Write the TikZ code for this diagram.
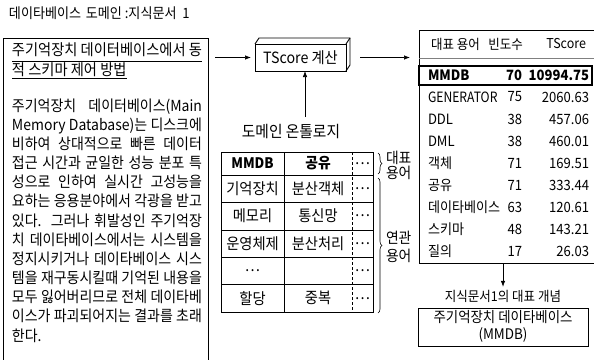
\documentclass[tikz,border=0pt]{standalone}
\usepackage{graphicx}
\usepackage{fontspec}
\setmainfont{Noto Sans CJK KR}
\usetikzlibrary{decorations.pathreplacing,arrows.meta}
\newcommand{\sx}[1]{\scalebox{0.92}[1]{#1}}
\newcommand{\jl}[1]{\makebox[206.5pt][s]{#1}}
\begin{document}
\begin{tikzpicture}[x=1pt,y=-1pt,
  every node/.style={inner sep=0pt, outer sep=0pt},
  arr/.style={-{Latex[length=6pt,width=4.5pt]}, line width=0.7pt},
  frame/.style={draw, line width=0.9pt},
  thinline/.style={line width=0.6pt},
  cell/.style={font=\fontsize{15.5}{17}\selectfont},
  rt/.style={font=\fontsize{14.2}{16}\selectfont},
  brc/.style={decorate, decoration={brace, amplitude=4pt}, line width=0.6pt},
]
\useasboundingbox[fill=white] (0,0) rectangle (594,359);

% title
\node[anchor=west, font=\fontsize{14.2}{16}\selectfont] (title) at (9,13) {\sx{데이타베이스\hspace{2pt} 도메인 :지식문서\hspace{3pt} 1}};

% left box
\node[frame, anchor=north west, minimum width=205pt, minimum height=325pt] (leftbox) at (3,38) {};
\node[anchor=west, font=\fontsize{15.5}{17}\selectfont] (h1) at (12,49.5) {\sx{\jl{주기억장치 데이터베이스에서 동}}};
\node[anchor=west, font=\fontsize{15.5}{17}\selectfont] (h2) at (12,69.5) {\sx{적 스키마 제어 방법}};
\draw[line width=0.8pt] ([yshift=-12pt]h1.west) -- ([yshift=-12pt]h1.east);
\draw[line width=0.8pt] ([yshift=-9pt]h2.west) -- ([yshift=-9pt]h2.east);
\node[anchor=north west, font=\fontsize{15.2}{19.17}\selectfont] (para) at (12,98.5) {\sx{\parbox[t]{206.5pt}{\raggedright
\jl{주기억장치 데이터베이스(Main}\\
\jl{Memory Database)는 디스크에}\\
\jl{비하여 상대적으로 빠른 데이터}\\
\jl{접근 시간과 균일한 성능 분포 특}\\
\jl{성으로 인하여 실시간 고성능을}\\
\jl{요하는 응용분야에서 각광을 받고}\\
\jl{있다. 그러나 휘발성인 주기억장}\\
\jl{치 데이타베이스에서는 시스템을}\\
\jl{정지시키거나 데이타베이스 시스}\\
\jl{템을 재구동시킬때 기억된 내용을}\\
\jl{모두 잃어버리므로 전체 데이타베}\\
\jl{이스가 파괴되어지는 결과를 초래}\\
한다.}}};

% TScore box (3D)
\node[frame, minimum width=91pt, minimum height=27pt, font=\fontsize{15.5}{17}\selectfont] (ts) at (300.5,57.5) {\sx{TScore 계산}};
\draw[line width=0.9pt] (ts.north west) -- ([shift={(4,-6)}]ts.north west) -- ([shift={(4,-6)}]ts.north east) -- ([shift={(4,-6)}]ts.south east) -- (ts.south east);
\draw[line width=0.9pt] (ts.north east) -- ([shift={(4,-6)}]ts.north east);

% right table frame
\node[frame, anchor=north west, minimum width=185pt, minimum height=233pt] (rtab) at (419,30) {};

% arrows around TScore
\draw[arr, shorten <=7pt, shorten >=4pt] (leftbox.east |- ts.west) -- (ts.west);
\draw[arr, shorten <=14pt, shorten >=9pt] (ts.east) -- (ts.east -| rtab.west);
\coordinate (upstart) at (305,117);
\draw[arr] (upstart) -- (upstart |- ts.south);

% ontology
\node[font=\fontsize{16}{17}\selectfont] (onto) at (291,132) {\sx{도메인 온톨로지}};
\node[frame, anchor=north west, minimum width=152pt, minimum height=160pt] (ont) at (221,152) {};
\draw[line width=1pt] (221,175) -- (373,175);
\foreach \yy in {202.4,229.8,257.2,284.6} {\draw[thinline] (221,\yy) -- (373,\yy);}
\draw[thinline] (284,152) -- (284,312);
\draw[thinline, densely dashed] (352,152) -- (352,312);

\node[cell, font=\fontsize{14.5}{16}\bfseries] (c11) at (252.5,163.5) {\sx{MMDB}};
\node[cell, font=\fontsize{15}{16}\bfseries] (c12) at (318,163.5) {\sx{공유}};
\node[cell] (c13) at (362.5,163.5) {\sx{…}};
\node[cell] (c21) at (252.5,188.7) {\sx{기억장치}};
\node[cell] (c22) at (318,188.7) {\sx{분산객체}};
\node[cell] (c23) at (362.5,188.7) {\sx{…}};
\node[cell] (c31) at (252.5,216.1) {\sx{메모리}};
\node[cell] (c32) at (318,216.1) {\sx{통신망}};
\node[cell] (c33) at (362.5,216.1) {\sx{…}};
\node[cell] (c41) at (252.5,243.5) {\sx{운영체제}};
\node[cell] (c42) at (318,243.5) {\sx{분산처리}};
\node[cell] (c43) at (362.5,243.5) {\sx{…}};
\node[cell] (c51) at (252.5,270.9) {\sx{…}};
\node[cell] (c53) at (362.5,270.9) {\sx{…}};
\node[cell] (c61) at (252.5,298.3) {\sx{할당}};
\node[cell] (c62) at (318,298.3) {\sx{중복}};
\node[cell] (c63) at (362.5,298.3) {\sx{…}};

\draw[brc] (378,153) -- (378,174);
\draw[brc] (378,178) -- (378,313);
\node[anchor=west, font=\fontsize{15}{16}\selectfont] (lab1a) at (386,157.5) {\sx{대표}};
\node[anchor=west, font=\fontsize{15}{16}\selectfont] (lab1b) at (386,172.5) {\sx{용어}};
\node[anchor=west, font=\fontsize{15}{16}\selectfont] (lab2a) at (386,238) {\sx{연관}};
\node[anchor=west, font=\fontsize{15}{16}\selectfont] (lab2b) at (386,256) {\sx{용어}};

% right table contents
\node[rt, anchor=west, font=\fontsize{13.6}{16}\selectfont] (hd1) at (431,44) {\sx{대표 용어}};
\node[rt, anchor=east, font=\fontsize{13.6}{16}\selectfont] (hd2) at (523,44) {\sx{빈도수}};
\node[rt, anchor=east, font=\fontsize{13.6}{16}\selectfont] (hd3) at (586,44) {\sx{TScore}};
\draw[gray, line width=0.5pt] (rtab.west |- 0,58) -- (594,58);
\draw[line width=1.6pt] (419,66) rectangle (592,85);
\node[rt, anchor=west, font=\fontsize{14.2}{16}\bfseries] (t1) at (428,75) {\sx{MMDB}};
\node[rt, anchor=east, font=\fontsize{14.2}{16}\bfseries] (f1) at (522,75) {\sx{70}};
\node[rt, anchor=east, font=\fontsize{14.2}{16}\bfseries] (s1) at (589,75) {\sx{10994.75}};
\foreach \t/\f/\s [count=\i from 2] in {{\scalebox{0.93}[1]{GENERATOR}}/75/2060.63, DDL/38/457.06, DML/38/460.01, 객체/71/169.51, 공유/71/333.44, 데이타베이스/63/120.61, 스키마/48/143.21, 질의/17/26.03} {
  \node[rt, anchor=west] (t\i) at (428,{75+(\i-1)*22}) {\sx{\t}};
  \node[rt, anchor=east] (f\i) at (522,{75+(\i-1)*22}) {\sx{\f}};
  \node[rt, anchor=east] (s\i) at (589,{75+(\i-1)*22}) {\sx{\s}};
}

% concept
\node[font=\fontsize{13.6}{15}\selectfont] (clabel) at (503,296) {\sx{지식문서1의 대표 개념}};
\draw[arr, shorten >=3pt] (rtab.south -| clabel.north) -- (clabel.north);
\node[frame, minimum width=170pt, minimum height=38pt, font=\fontsize{14.6}{15.5}\selectfont] (concept) at (503,327) {\sx{\begin{tabular}{@{}c@{}}주기억장치 데이타베이스\\(MMDB)\end{tabular}}};
\end{tikzpicture}
\end{document}
